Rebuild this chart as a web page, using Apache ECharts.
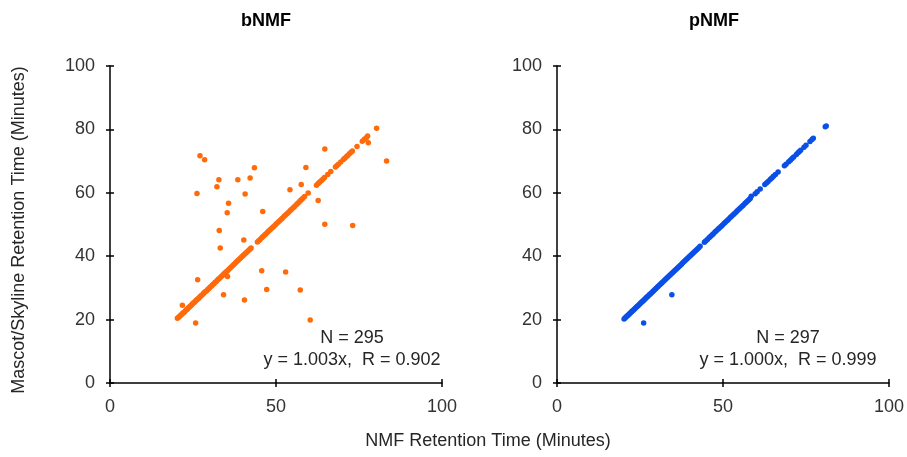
<!DOCTYPE html>
<html>
<head>
<meta charset="utf-8">
<script src="https://cdn.jsdelivr.net/npm/echarts@6/dist/echarts.min.js"></script>
<style>html,body{margin:0;padding:0;background:#fff}#c{width:907px;height:457px}</style>
</head>
<body>
<div id="c"></div>
<script>
// ---- data ----
const panelTitles = ['bNMF', 'pNMF'];
const xTicks = [0, 50, 100];
const yTicks = [0, 20, 40, 60, 80, 100];
const bnmfLine = [
[20.3,20.4],[20.6,20.7],[20.9,21.0],[21.2,21.3],[21.5,21.5],[21.8,21.9],[22.1,22.2],[22.4,22.4],[22.7,22.8],[23.0,23.1],
[23.3,23.3],[23.6,23.7],[23.9,24.0],[24.2,24.3],[24.5,24.5],[24.8,24.9],[25.1,25.2],[25.4,25.4],[25.7,25.8],[26.0,26.1],
[26.3,26.4],[26.6,26.6],[26.9,27.0],[27.2,27.3],[27.5,27.6],[27.9,27.9],[28.2,28.3],[28.5,28.6],[28.8,28.9],[29.2,29.2],
[29.5,29.6],[29.9,29.9],[30.2,30.3],[30.6,30.6],[30.9,31.0],[31.3,31.3],[31.6,31.7],[32.0,32.0],[32.4,32.5],[32.7,32.8],
[33.1,33.1],[33.5,33.6],[33.9,33.9],[34.2,34.3],[34.6,34.7],[35.0,35.1],[35.4,35.4],[35.8,35.9],[36.2,36.3],[36.6,36.7],
[37.0,37.1],[37.4,37.5],[37.8,37.9],[38.2,38.3],[38.6,38.7],[39.0,39.1],[39.4,39.5],[39.8,39.9],[40.2,40.3],[40.6,40.7],
[41.0,41.1],[41.4,41.5],[41.8,41.9],[42.2,42.3],[42.5,42.6],
[44.4,44.5],[44.8,44.9],[45.2,45.3],[45.7,45.8],[46.1,46.2],[46.6,46.7],[47.0,47.1],[47.5,47.6],[47.9,48.0],[48.3,48.4],
[48.8,48.9],[49.2,49.3],[49.7,49.8],[50.1,50.2],[50.6,50.7],[51.0,51.1],[51.5,51.6],[51.9,52.0],[52.4,52.5],[52.8,52.9],
[53.3,53.4],[53.8,53.9],[54.3,54.4],[54.7,54.8],[55.2,55.3],[55.6,55.7],[56.1,56.2],[56.5,56.6],[56.9,57.0],[57.3,57.5],
[57.7,57.9],[58.1,58.3],[58.6,58.8],[59.7,59.9],
[62.2,62.4],[62.7,62.9],[63.1,63.3],[63.6,63.8],[64.1,64.3],[64.6,64.8],[65.6,65.8],[66.5,66.7],
[67.9,68.1],[68.3,68.5],[68.8,69.0],[69.5,69.7],[70.3,70.5],[70.7,70.9],[71.2,71.4],[71.6,71.8],[72.1,72.3],[72.6,72.8],
[73.0,73.2],[74.4,74.6],[76.0,76.3],[76.6,76.9],[77.2,77.4],[77.6,77.9],[80.3,80.4]
];
const bnmfOutliers = [
[27.1,71.7],[28.5,70.4],[26.2,59.8],[32.8,64.1],[32.2,61.9],[38.5,64.1],[42.2,64.7],[43.5,67.9],[40.7,59.6],[35.7,56.7],
[35.3,53.7],[46.0,54.1],[32.9,48.1],[33.2,42.6],[40.3,45.1],[64.7,73.8],[59.0,68.0],[57.6,62.6],[54.2,61.0],[62.7,57.6],
[64.7,50.1],[73.1,49.7],[83.3,70.0],[77.8,75.8],[45.7,35.4],[52.9,35.0],[47.2,29.5],[57.3,29.3],[60.3,19.9],[40.5,26.2],
[34.2,27.8],[35.4,33.6],[26.4,32.6],[21.8,24.5],[25.8,18.9]
];
const pnmfLine = [
[20.2,20.2],[20.5,20.5],[20.8,20.8],[21.1,21.1],[21.4,21.4],[21.7,21.7],[22.0,22.0],[22.3,22.3],[22.6,22.6],[22.9,22.9],
[23.2,23.2],[23.5,23.5],[23.8,23.8],[24.1,24.1],[24.4,24.4],[24.7,24.7],[25.0,25.0],[25.3,25.3],[25.6,25.6],[25.9,25.9],
[26.2,26.2],[26.5,26.5],[26.8,26.8],[27.1,27.1],[27.4,27.4],[27.8,27.8],[28.1,28.1],[28.4,28.4],[28.8,28.8],[29.1,29.1],
[29.5,29.5],[29.8,29.8],[30.2,30.2],[30.5,30.5],[30.9,30.9],[31.3,31.3],[31.6,31.6],[32.0,32.0],[32.4,32.4],[32.7,32.7],
[33.1,33.1],[33.5,33.5],[33.9,33.9],[34.3,34.3],[34.7,34.7],[35.1,35.1],[35.5,35.5],[35.9,35.9],[36.3,36.3],[36.7,36.7],
[37.1,37.1],[37.5,37.5],[37.9,37.9],[38.3,38.3],[38.7,38.7],[39.1,39.1],[39.5,39.5],[39.9,39.9],[40.3,40.3],[40.7,40.7],
[41.1,41.1],[41.5,41.5],[41.9,41.9],[42.3,42.3],[42.7,42.7],[43.1,43.1],
[44.4,44.4],[44.8,44.8],[45.3,45.3],[45.8,45.8],[46.2,46.2],[46.7,46.7],[47.1,47.1],[47.6,47.6],[48.0,48.0],[48.5,48.5],
[48.9,48.9],[49.4,49.4],[49.8,49.8],[50.3,50.3],[50.7,50.7],[51.2,51.2],[51.6,51.6],[52.1,52.1],[52.5,52.5],[53.0,53.0],
[53.4,53.4],[53.9,53.9],[54.3,54.3],[54.8,54.8],[55.2,55.2],[55.7,55.7],[56.1,56.1],[56.6,56.6],[57.0,57.0],[57.4,57.4],
[57.8,57.8],[58.2,58.2],[58.5,58.9],[59.7,59.7],[60.3,60.3],[61.2,61.2],[62.6,62.6],[63.1,63.1],[63.6,63.6],[64.2,64.2],
[64.7,64.7],[65.2,65.2],[65.8,65.8],[66.6,66.6],[68.5,68.5],[69.0,69.0],[69.8,69.8],[70.3,70.3],[70.8,70.8],[71.3,71.3],
[72.1,72.1],[72.6,72.6],[73.0,73.0],[73.4,73.4],[74.4,74.4],[75.0,75.0],[76.2,76.2],[76.8,76.8],[77.2,77.2],[80.8,80.8],
[81.1,81.1]
];
const pnmfOutliers = [[26.1,18.9],[34.6,27.8]];
const annotations = [['N = 295', 'y = 1.003x,  R = 0.902'], ['N = 297', 'y = 1.000x,  R = 0.999']];
const xAxisTitle = 'NMF Retention Time (Minutes)';
const yAxisTitle = 'Mascot/Skyline Retention Time (Minutes)';
const colors = ['#ff6a0a', '#0a4fe6'];

// ---- chart ----
const FONT = '"Liberation Sans", Arial, sans-serif';
const grids = [
  {left: 110, top: 66, width: 332, height: 317},
  {left: 557, top: 66, width: 333, height: 317}
];
const titleX = [266, 714];
const noteX = [352, 788];
const xAxes = [], yAxes = [], series = [], graphics = [];
grids.forEach((g, i) => {
  const base = {gridIndex: i, type: 'value', min: 0, max: 100, splitLine: {show: false}};
  xAxes.push(Object.assign({}, base, {
    interval: 50, position: 'bottom',
    axisLine: {show: true, onZero: false, lineStyle: {color: '#000', width: 1.5}},
    axisTick: {show: true, inside: false, length: 4, lineStyle: {color: '#000', width: 1.5}},
    axisLabel: {show: true, margin: 15, color: '#333', fontSize: 18, fontFamily: FONT,
      formatter: v => xTicks.includes(v) ? String(v) : ''}
  }));
  xAxes.push(Object.assign({}, base, {
    interval: 50, position: 'bottom',
    axisLine: {show: false, onZero: false},
    axisTick: {show: true, inside: true, length: 4, lineStyle: {color: '#000', width: 1.5}},
    axisLabel: {show: false}
  }));
  yAxes.push(Object.assign({}, base, {
    interval: 20, position: 'left',
    axisLine: {show: true, onZero: false, lineStyle: {color: '#000', width: 1.5}},
    axisTick: {show: true, inside: false, length: 4, lineStyle: {color: '#000', width: 1.5}},
    axisLabel: {show: true, margin: 15, color: '#333', fontSize: 18, fontFamily: FONT,
      formatter: v => yTicks.includes(v) ? String(v) : ''}
  }));
  yAxes.push(Object.assign({}, base, {
    interval: 20, position: 'left',
    axisLine: {show: false, onZero: false},
    axisTick: {show: true, inside: true, length: 4, lineStyle: {color: '#000', width: 1.5}},
    axisLabel: {show: false}
  }));
  const line = i === 0 ? bnmfLine : pnmfLine;
  const out = i === 0 ? bnmfOutliers : pnmfOutliers;
  series.push({
    type: 'scatter', xAxisIndex: i * 2, yAxisIndex: i * 2,
    data: line.concat(out), symbolSize: 5.5,
    itemStyle: {color: colors[i], opacity: 1}, silent: true, animation: false
  });
  graphics.push({type: 'text', x: titleX[i], y: 21, style: {text: panelTitles[i], font: 'bold 18px ' + FONT, fill: '#000', align: 'center', verticalAlign: 'middle', textAlign: 'center', textVerticalAlign: 'middle'}});
  graphics.push({type: 'text', x: noteX[i], y: 338, style: {text: annotations[i][0], font: '18px ' + FONT, fill: '#262626', align: 'center', verticalAlign: 'middle', textAlign: 'center', textVerticalAlign: 'middle'}});
  graphics.push({type: 'text', x: noteX[i], y: 360, style: {text: annotations[i][1], font: '18px ' + FONT, fill: '#262626', align: 'center', verticalAlign: 'middle', textAlign: 'center', textVerticalAlign: 'middle'}});
});
graphics.push({type: 'text', x: 488, y: 441, style: {text: xAxisTitle, font: '18px ' + FONT, fill: '#262626', align: 'center', verticalAlign: 'middle', textAlign: 'center', textVerticalAlign: 'middle'}});
graphics.push({type: 'text', x: 19, y: 230, rotation: Math.PI / 2, style: {text: yAxisTitle, font: '18px ' + FONT, fill: '#262626', align: 'center', verticalAlign: 'middle', textAlign: 'center', textVerticalAlign: 'middle'}});

const chart = echarts.init(document.getElementById('c'), null, {renderer: 'canvas'});
chart.setOption({
  backgroundColor: '#fff',
  animation: false,
  grid: grids,
  xAxis: xAxes,
  yAxis: yAxes,
  series: series,
  graphic: graphics
});
</script>
</body>
</html>
